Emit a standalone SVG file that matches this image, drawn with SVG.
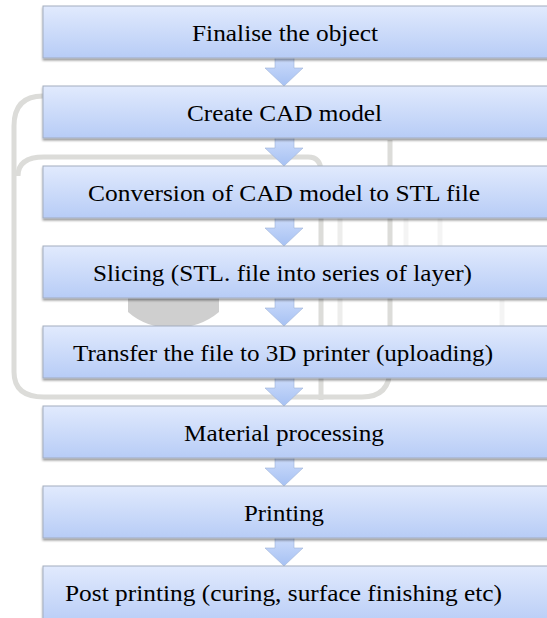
<svg xmlns="http://www.w3.org/2000/svg" width="547" height="618" viewBox="0 0 547 618">
  <defs>
    <linearGradient id="boxGrad" x1="0" y1="0" x2="0" y2="1">
      <stop offset="0" stop-color="#e1eafd"/>
      <stop offset="1" stop-color="#b7ccf6"/>
    </linearGradient>
    <linearGradient id="arrGrad" x1="0" y1="0" x2="0" y2="1">
      <stop offset="0" stop-color="#cddcfb"/>
      <stop offset="1" stop-color="#a6c1f3"/>
    </linearGradient>
    <filter id="shadow" x="-5%" y="-20%" width="110%" height="150%">
      <feDropShadow dx="0" dy="2" stdDeviation="1.2" flood-color="#000" flood-opacity="0.4"/>
    </filter>
  </defs>
  <style>
    .box { fill: url(#boxGrad); stroke: #a3adbf; stroke-width: 1; filter: url(#shadow); }
    .arrow { fill: url(#arrGrad); stroke: #9fb3d6; stroke-width: 0.6; }
    text { font-family: "Liberation Serif", "Times New Roman", serif; font-size: 23px; fill: #000; text-anchor: middle; }
    .wm { fill: none; stroke: #dcdcd9; stroke-width: 5; }
    .wmfill { fill: #cfcfcf; }
  </style>
  <rect width="547" height="618" fill="#ffffff"/>

  <g id="watermark">
    <path class="wm" d="M 43 96 Q 14 96 14 126 L 14 372 Q 14 397 44 397 L 362 397 Q 390 397 390 368 L 390 140"/>
    <path class="wm" d="M 18 176 Q 18 157 44 157 L 308 157 Q 321 157 321 172 L 321 400"/>
    <path class="wm" d="M 340 200 L 340 330" stroke-width="12" opacity="0.5"/>
    <path class="wm" d="M 406 210 L 406 250 M 440 210 L 440 250 M 502 300 L 502 330" stroke-width="14" opacity="0.3"/>
    <path class="wmfill" d="M 128 298 L 219 298 L 219 312 Q 200 328 173 328 Q 146 328 128 312 Z"/>
  </g>

  <g id="connectors">
    <polygon class="arrow" points="275,57 294,57 294,68 303,68 284,86 265,68 275,68"/>
    <polygon class="arrow" points="275,137 294,137 294,148 303,148 284,166 265,148 275,148"/>
    <polygon class="arrow" points="275,217 294,217 294,228 303,228 284,246 265,228 275,228"/>
    <polygon class="arrow" points="275,297 294,297 294,308 303,308 284,326 265,308 275,308"/>
    <polygon class="arrow" points="275,377 294,377 294,388 303,388 284,406 265,388 275,388"/>
    <polygon class="arrow" points="275,457 294,457 294,468 303,468 284,486 265,468 275,468"/>
    <polygon class="arrow" points="275,537 294,537 294,548 303,548 284,566 265,548 275,548"/>
  </g>

  <g id="n1"><rect class="box" x="43" y="6" width="510" height="52"/><text x="285" y="41" textLength="186" lengthAdjust="spacingAndGlyphs">Finalise the object</text></g>
  <g id="n2"><rect class="box" x="43" y="86" width="510" height="52"/><text x="284.5" y="121" textLength="195" lengthAdjust="spacingAndGlyphs">Create CAD model</text></g>
  <g id="n3"><rect class="box" x="43" y="166" width="510" height="52"/><text x="284" y="201" textLength="392" lengthAdjust="spacingAndGlyphs">Conversion of CAD model to STL file</text></g>
  <g id="n4"><rect class="box" x="43" y="246" width="510" height="52"/><text x="282.5" y="281" textLength="379" lengthAdjust="spacingAndGlyphs">Slicing (STL. file into series of layer)</text></g>
  <g id="n5"><rect class="box" x="43" y="326" width="510" height="52"/><text x="283" y="361" textLength="420" lengthAdjust="spacingAndGlyphs">Transfer the file to 3D printer (uploading)</text></g>
  <g id="n6"><rect class="box" x="43" y="406" width="510" height="52"/><text x="284" y="441" textLength="200" lengthAdjust="spacingAndGlyphs">Material processing</text></g>
  <g id="n7"><rect class="box" x="43" y="486" width="510" height="52"/><text x="284" y="521" textLength="80" lengthAdjust="spacingAndGlyphs">Printing</text></g>
  <g id="n8"><rect class="box" x="43" y="566" width="510" height="60"/><text x="283.5" y="601" textLength="437" lengthAdjust="spacingAndGlyphs">Post printing (curing, surface finishing etc)</text></g>
</svg>
